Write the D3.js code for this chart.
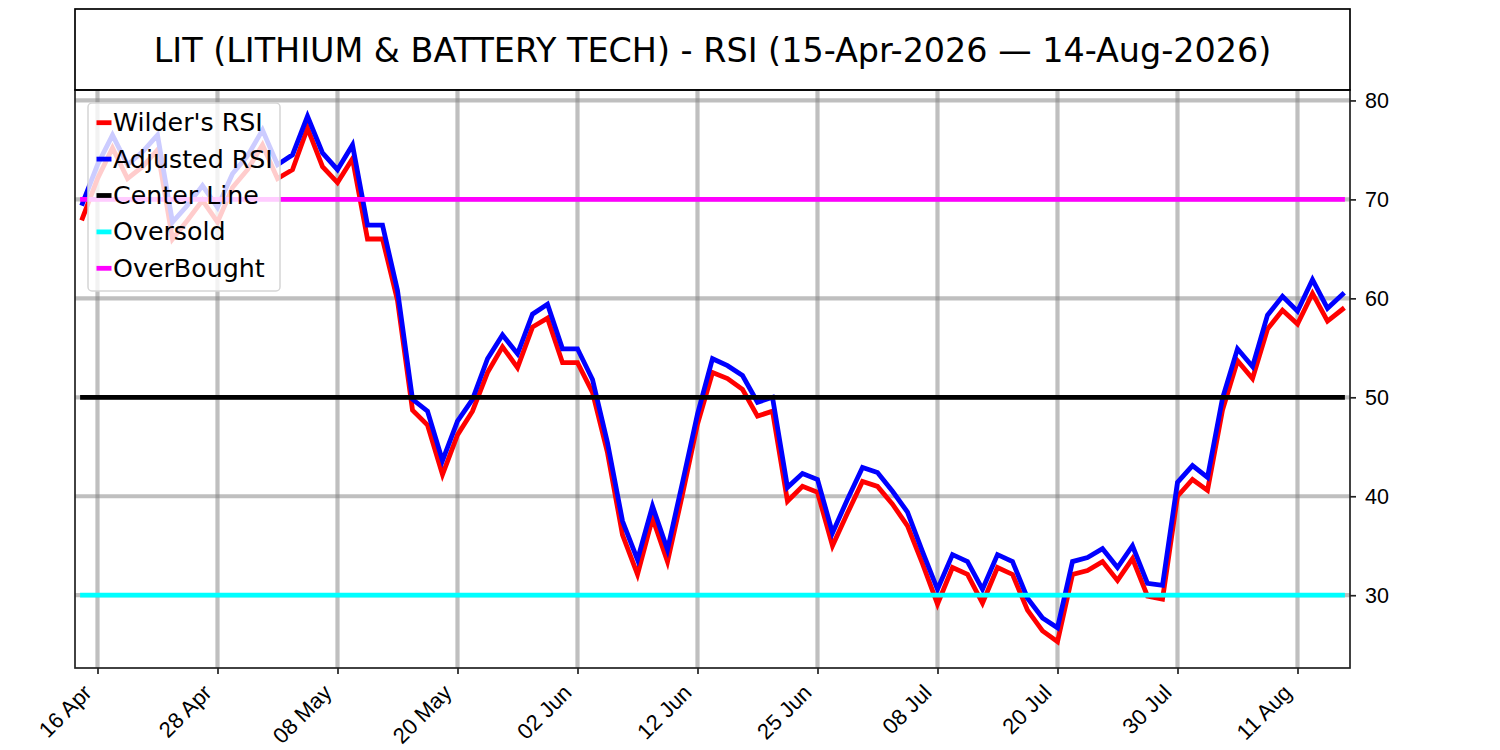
<!DOCTYPE html>
<html>
<head>
<meta charset="utf-8">
<script src="https://cdn.jsdelivr.net/npm/d3@7/dist/d3.min.js"></script>
<style>
	body { margin: 0; background: #ffffff; }
	svg { display: block; font-family: 'DejaVu Sans', sans-serif; }
</style>
</head>
<body>
<div id="chart"></div>
<script>
// Chart data, one value per trading day from 15 Apr to 14 Aug
const wildersRsi = [
	68.1, 72.1, 75.2, 72.1, 73.3, 75.0, 66.0, 67.9, 69.9, 67.7,
	71.2, 73.0, 75.5, 72.1, 73.0, 77.2, 73.3, 71.7, 74.1, 66.0,
	66.0, 59.8, 48.7, 47.2, 42.2, 46.2, 48.6, 52.5, 55.1, 53.0,
	57.1, 58.0, 53.5, 53.5, 50.5, 44.4, 36.1, 32.1, 37.8, 33.4,
	40.2, 47.3, 52.5, 51.9, 50.8, 48.1, 48.6, 39.5, 41.0, 40.4,
	35.0, 38.3, 41.5, 41.0, 39.2, 37.0, 33.2, 29.1, 32.8, 32.1,
	29.2, 32.8, 32.1, 28.5, 26.4, 25.3, 32.1, 32.5, 33.4, 31.5,
	33.7, 29.9, 29.6, 40.0, 41.7, 40.6, 48.7, 53.7, 51.9, 56.9,
	58.8, 57.4, 60.5, 57.7, 58.9
];
const adjustedRsi = [
	69.6, 73.5, 76.5, 73.5, 74.8, 76.5, 67.7, 69.4, 71.4, 69.2,
	72.6, 74.4, 77.0, 73.5, 74.5, 78.4, 74.7, 73.0, 75.5, 67.4,
	67.4, 60.8, 49.8, 48.6, 43.6, 47.6, 49.8, 53.9, 56.3, 54.4,
	58.4, 59.4, 54.9, 54.9, 51.8, 45.4, 37.5, 33.6, 39.0, 34.6,
	41.4, 48.3, 53.9, 53.2, 52.2, 49.5, 50.0, 40.9, 42.3, 41.7,
	36.3, 39.7, 42.9, 42.4, 40.5, 38.4, 34.4, 30.6, 34.1, 33.4,
	30.6, 34.1, 33.4, 29.7, 27.7, 26.7, 33.4, 33.8, 34.7, 32.8,
	35.0, 31.2, 31.0, 41.4, 43.1, 41.9, 49.9, 54.9, 53.1, 58.3,
	60.2, 58.7, 61.9, 59.0, 60.4
];
const tickIndex = [1, 9, 17, 25, 33, 41, 49, 57, 65, 73, 81];
const tickLabels = ['16 Apr', '28 Apr', '08 May', '20 May', '02 Jun', '12 Jun', '25 Jun', '08 Jul', '20 Jul', '30 Jul', '11 Aug'];
const yTicks = [30, 40, 50, 60, 70, 80];
const centerLevel = 50;
const oversoldLevel = 30;
const overboughtLevel = 70;
const titleText = 'LIT (LITHIUM & BATTERY TECH) - RSI (15-Apr-2026 \u2014 14-Aug-2026)';

// Layout
const width = 1500, height = 750;
const plot = { left: 75, right: 1350, top: 90, bottom: 668 };
const titleTop = 9;

const svg = d3.select('#chart').append('svg')
	.attr('width', width)
	.attr('height', height);

// Scales, y padded by 5% like the original plot
const n = wildersRsi.length;
const x = d3.scaleLinear()
	.domain([-0.5, n - 0.5])
	.range([plot.left, plot.right]);

const allValues = wildersRsi.concat(adjustedRsi, [centerLevel, oversoldLevel, overboughtLevel]);
const yMin = d3.min(allValues), yMax = d3.max(allValues);
const yPad = (yMax - yMin) * 0.05;
const y = d3.scaleLinear()
	.domain([yMin - yPad, yMax + yPad])
	.range([plot.bottom, plot.top]);

svg.append('defs').append('clipPath')
	.attr('id', 'plotClip')
	.append('rect')
	.attr('x', plot.left)
	.attr('y', plot.top)
	.attr('width', plot.right - plot.left)
	.attr('height', plot.bottom - plot.top);

// Grid
const grid = svg.append('g').attr('clip-path', 'url(#plotClip)');
grid.selectAll('line.vgrid')
	.data(tickIndex)
	.join('line')
	.attr('class', 'vgrid')
	.attr('x1', d => x(d)).attr('x2', d => x(d))
	.attr('y1', plot.top).attr('y2', plot.bottom)
	.attr('stroke', '#808080')
	.attr('stroke-opacity', 0.5)
	.attr('stroke-width', 4.2);
grid.selectAll('line.hgrid')
	.data(yTicks)
	.join('line')
	.attr('class', 'hgrid')
	.attr('x1', plot.left).attr('x2', plot.right)
	.attr('y1', d => y(d)).attr('y2', d => y(d))
	.attr('stroke', '#808080')
	.attr('stroke-opacity', 0.5)
	.attr('stroke-width', 4.2);

// Series and reference levels
const series = [
	{ name: "Wilder's RSI", color: '#ff0000', values: wildersRsi },
	{ name: 'Adjusted RSI', color: '#0000ff', values: adjustedRsi },
	{ name: 'Center Line', color: '#000000', values: wildersRsi.map(() => centerLevel) },
	{ name: 'Oversold', color: '#00ffff', values: wildersRsi.map(() => oversoldLevel) },
	{ name: 'OverBought', color: '#ff00ff', values: wildersRsi.map(() => overboughtLevel) }
];

const line = d3.line()
	.x((d, i) => x(i))
	.y(d => y(d));

svg.append('g')
	.attr('clip-path', 'url(#plotClip)')
	.selectAll('path')
	.data(series)
	.join('path')
	.attr('d', d => line(d.values))
	.attr('fill', 'none')
	.attr('stroke', d => d.color)
	.attr('stroke-width', 4.8)
	.attr('stroke-linejoin', 'miter')
	.attr('stroke-linecap', 'square');

// Axes
const xAxis = svg.append('g')
	.attr('transform', 'translate(0,' + plot.bottom + ')')
	.call(d3.axisBottom(x)
		.tickValues(tickIndex)
		.tickFormat((d, i) => tickLabels[i])
		.tickSize(6)
		.tickPadding(0));
xAxis.select('.domain').remove();
xAxis.selectAll('.tick line').attr('stroke', '#222').attr('stroke-width', 1.7);
xAxis.selectAll('.tick text')
	.attr('font-size', 22)
	.attr('fill', '#000')
	.attr('text-anchor', 'end')
	.attr('dy', null)
	.attr('y', 0)
	.attr('transform', 'translate(-5,26) rotate(-45)');

const yAxis = svg.append('g')
	.attr('transform', 'translate(' + plot.right + ',0)')
	.call(d3.axisRight(y)
		.tickValues(yTicks)
		.tickSize(6)
		.tickPadding(9));
yAxis.select('.domain').remove();
yAxis.selectAll('.tick line').attr('stroke', '#222').attr('stroke-width', 1.7);
yAxis.selectAll('.tick text')
	.attr('font-size', 21.5)
	.attr('fill', '#000');

// Frame and title box
svg.append('rect')
	.attr('x', plot.left)
	.attr('y', plot.top)
	.attr('width', plot.right - plot.left)
	.attr('height', plot.bottom - plot.top)
	.attr('fill', 'none')
	.attr('stroke', '#222')
	.attr('stroke-width', 1.7);
svg.append('rect')
	.attr('x', plot.left)
	.attr('y', titleTop)
	.attr('width', plot.right - plot.left)
	.attr('height', plot.top - titleTop)
	.attr('fill', 'none')
	.attr('stroke', '#000')
	.attr('stroke-width', 1.7);
svg.append('text')
	.attr('x', (plot.left + plot.right) / 2)
	.attr('y', (titleTop + plot.top) / 2 + 1)
	.attr('text-anchor', 'middle')
	.attr('dominant-baseline', 'central')
	.attr('font-size', 33.4)
	.attr('fill', '#000')
	.text(titleText);

// Legend
const legend = svg.append('g').attr('transform', 'translate(88,103)');
legend.append('rect')
	.attr('width', 192)
	.attr('height', 188)
	.attr('rx', 4)
	.attr('fill', '#ffffff')
	.attr('fill-opacity', 0.8)
	.attr('stroke', '#d5d5d5')
	.attr('stroke-width', 1.5);
const rows = legend.selectAll('g.row')
	.data(series)
	.join('g')
	.attr('class', 'row')
	.attr('transform', (d, i) => 'translate(0,' + (19.7 + i * 36.4) + ')');
rows.append('line')
	.attr('x1', 8.5).attr('x2', 23.5)
	.attr('stroke', d => d.color)
	.attr('stroke-width', 4.8);
rows.append('text')
	.attr('x', 25)
	.attr('dominant-baseline', 'central')
	.attr('font-size', 25.3)
	.attr('fill', '#000')
	.text(d => d.name);
</script>
</body>
</html>
